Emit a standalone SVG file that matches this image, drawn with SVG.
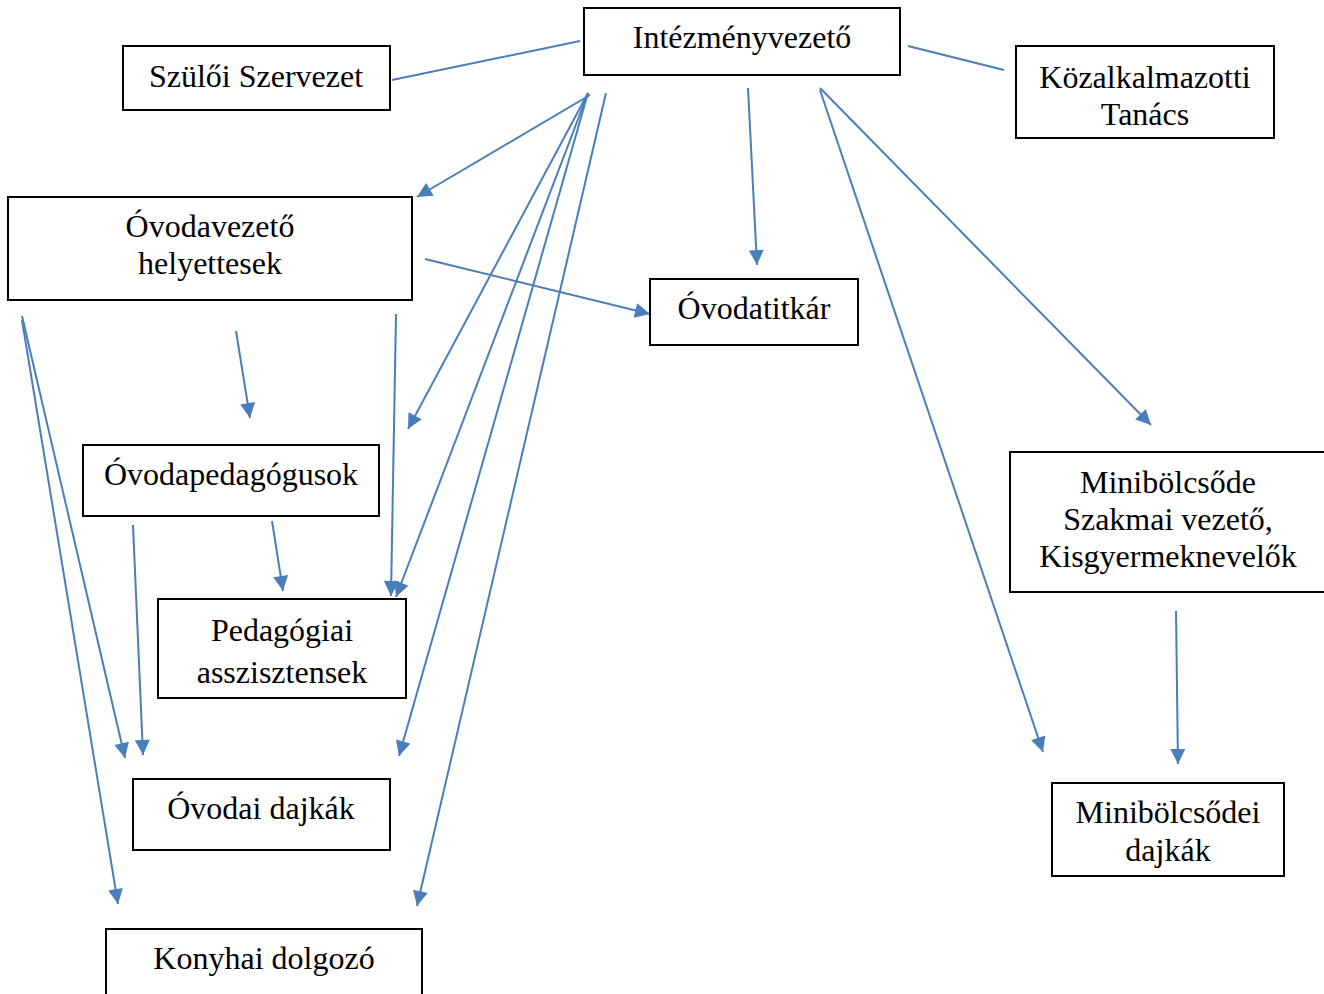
<svg xmlns="http://www.w3.org/2000/svg" width="1324" height="994" viewBox="0 0 1324 994">
<style>
.box{fill:#fff;stroke:#000;stroke-width:2}
.t{font-family:"Liberation Serif","Times New Roman",serif;font-size:32px;fill:#000;text-anchor:middle}
.c{stroke:#4a7ebb;stroke-width:2;fill:none}
.a{marker-end:url(#ah)}
</style>
<defs>
<marker id="ah" viewBox="0 0 10 10" refX="10" refY="5" markerWidth="8.5" markerHeight="7.5" orient="auto" markerUnits="strokeWidth">
<path d="M0,0 L10,5 L0,10 z" fill="#4a7ebb"/>
</marker>
</defs>
<rect width="1324" height="994" fill="#fff"/>
<g id="connectors">
<line class="c" x1="392" y1="80" x2="580" y2="41"/>
<line class="c" x1="908" y1="46" x2="1004" y2="70"/>
<line class="c a" x1="590" y1="95" x2="417" y2="197"/>
<line class="c a" x1="588" y1="93" x2="408" y2="429"/>
<line class="c a" x1="588" y1="93" x2="396" y2="597"/>
<line class="c a" x1="588" y1="93" x2="399" y2="756"/>
<line class="c a" x1="606" y1="93" x2="417" y2="906"/>
<line class="c a" x1="748" y1="88" x2="757" y2="265"/>
<line class="c a" x1="820" y1="88" x2="1151" y2="425"/>
<line class="c a" x1="820" y1="90" x2="1043" y2="752"/>
<line class="c a" x1="425" y1="259" x2="650" y2="314"/>
<line class="c a" x1="236" y1="331" x2="250" y2="418"/>
<line class="c a" x1="396" y1="314" x2="391" y2="596"/>
<line class="c a" x1="22" y1="316" x2="125" y2="758"/>
<line class="c a" x1="22" y1="320" x2="118" y2="904"/>
<line class="c a" x1="133" y1="525" x2="143" y2="755"/>
<line class="c a" x1="272" y1="521" x2="283" y2="591"/>
<line class="c a" x1="1176" y1="611" x2="1178" y2="764"/>
</g>
<g id="intezmenyvezeto"><rect class="box" x="584" y="8" width="316" height="67"/><text class="t" x="742" y="48">Intézményvezető</text></g>
<g id="szuloi"><rect class="box" x="123" y="46" width="267" height="64"/><text class="t" x="256" y="87">Szülői Szervezet</text></g>
<g id="kozalkalmazotti"><rect class="box" x="1016" y="46" width="258" height="92"/><text class="t" x="1145" y="88">Közalkalmazotti</text><text class="t" x="1145" y="125">Tanács</text></g>
<g id="helyettesek"><rect class="box" x="8" y="197" width="404" height="103"/><text class="t" x="210" y="237">Óvodavezető</text><text class="t" x="210" y="274">helyettesek</text></g>
<g id="titkar"><rect class="box" x="650" y="279" width="208" height="66"/><text class="t" x="754" y="319">Óvodatitkár</text></g>
<g id="pedagogusok"><rect class="box" x="83" y="445" width="296" height="71"/><text class="t" x="231" y="485">Óvodapedagógusok</text></g>
<g id="asszisztensek"><rect class="box" x="158" y="599" width="248" height="99"/><text class="t" x="282" y="641">Pedagógiai</text><text class="t" x="282" y="683">asszisztensek</text></g>
<g id="dajkak"><rect class="box" x="133" y="779" width="257" height="71"/><text class="t" x="261" y="819">Óvodai dajkák</text></g>
<g id="konyhai"><rect class="box" x="106" y="929" width="316" height="80"/><text class="t" x="264" y="969">Konyhai dolgozó</text></g>
<g id="minibolcsode"><rect class="box" x="1010" y="452" width="330" height="140"/><text class="t" x="1168" y="493">Minibölcsőde</text><text class="t" x="1168" y="530">Szakmai vezető,</text><text class="t" x="1168" y="567">Kisgyermeknevelők</text></g>
<g id="minidajkak"><rect class="box" x="1052" y="783" width="232" height="93"/><text class="t" x="1168" y="823">Minibölcsődei</text><text class="t" x="1168" y="861">dajkák</text></g>
</svg>
